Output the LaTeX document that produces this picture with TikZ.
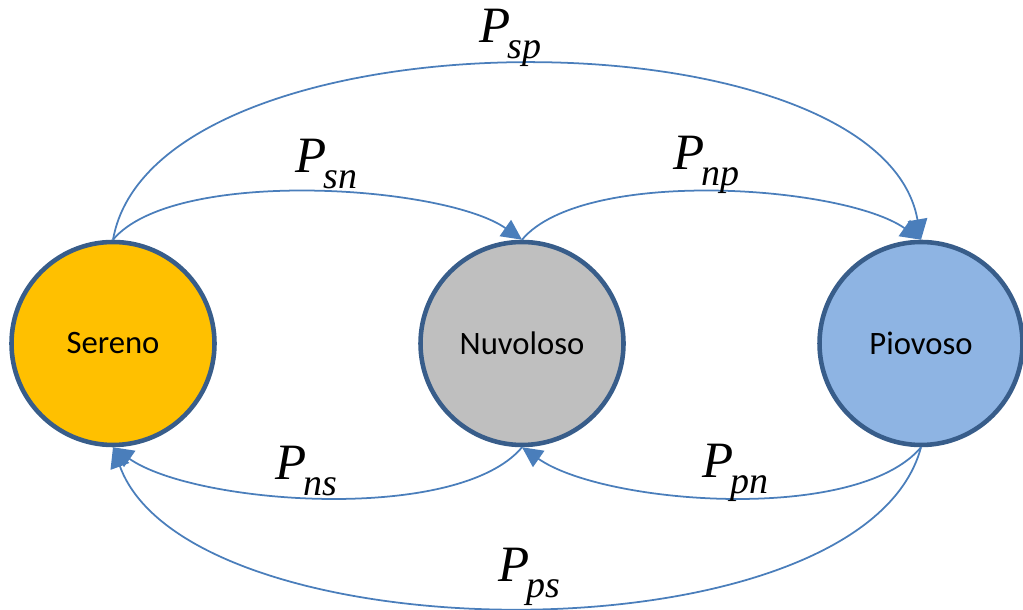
\documentclass[tikz,border=0pt]{standalone}
\usepackage{fontspec}
\setmainfont{Liberation Serif}
\setsansfont{Carlito}
\usetikzlibrary{arrows.meta}
\definecolor{EdgeBlue}{HTML}{4A7EBB}
\definecolor{RingBlue}{HTML}{385D8A}
\definecolor{SunGold}{HTML}{FFC000}
\definecolor{CloudGray}{HTML}{BFBFBF}
\definecolor{RainBlue}{HTML}{8EB4E3}
\newcommand{\prob}[1]{\textit{P}\kern-1pt\raisebox{-4.3pt}{\fontsize{10.8}{12}\selectfont\textit{#1}}}

\begin{document}
\begin{tikzpicture}[x=1cm,y=1cm,
    state/.style={circle,draw=RingBlue,line width=1.3pt,minimum size=2.03cm,inner sep=0pt,font=\sffamily\fontsize{9.3}{11}\selectfont},
    trans/.style={EdgeBlue,line width=0.5pt,-{Triangle[length=5.8pt,width=5.6pt]}},
    problabel/.style={anchor=base west,inner sep=0pt,font=\fontsize{14.5}{16}\selectfont}]
        \useasboundingbox (0,0) rectangle (10.23,6.10);
        \node[state,fill=SunGold] (sereno) at (1.13,2.665) {Sereno};
        \node[state,fill=CloudGray] (nuvoloso) at (5.22,2.665) {Nuvoloso};
        \node[state,fill=RainBlue] (piovoso) at (9.21,2.665) {Piovoso};
        % upper arcs
        \draw[trans] (sereno.north) to[out=80,in=100,distance=2.37cm] (piovoso.north);
        \draw[trans] (sereno.north) to[out=50,in=145,distance=0.95cm] (nuvoloso.north);
        \draw[trans] (nuvoloso.north) to[out=50,in=145,distance=0.95cm] (piovoso.north);
        % lower arcs
        \draw[trans] (nuvoloso.south) to[out=-130,in=-35,distance=1.0cm] (sereno.south);
        \draw[trans] (piovoso.south) to[out=-130,in=-35,distance=1.0cm] (nuvoloso.south);
        \draw[trans] (piovoso.south) to[out=-105,in=-70,distance=2.24cm] (sereno.south);
        % transition probabilities
        \node[problabel] (psp) at (4.79,5.67) {\prob{sp}};
        \node[problabel] (psn) at (2.95,4.37) {\prob{sn}};
        \node[problabel] (pnp) at (6.73,4.40) {\prob{np}};
        \node[problabel] (pns) at (2.75,1.30) {\prob{ns}};
        \node[problabel] (ppn) at (7.02,1.32) {\prob{pn}};
        \node[problabel] (pps) at (4.98,0.28) {\prob{ps}};
      \end{tikzpicture}
\end{document}
